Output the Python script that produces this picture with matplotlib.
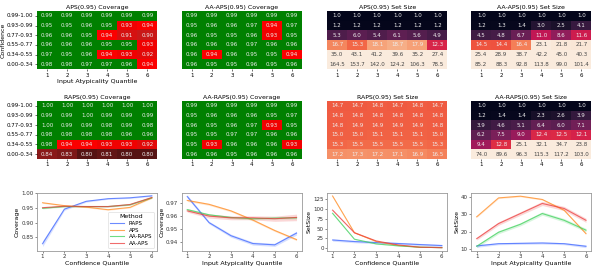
import numpy as np
import matplotlib
matplotlib.use("Agg")
import matplotlib.pyplot as plt
import seaborn as sns
from matplotlib.colors import LinearSegmentedColormap

# heatmap axes
conf_bins = ["0.99-1.00", "0.93-0.99", "0.77-0.93", "0.55-0.77", "0.34-0.55", "0.00-0.34"]
quantiles = [1, 2, 3, 4, 5, 6]

aps_cov = [[0.99, 0.99, 0.99, 0.99, 0.99, 0.99],
           [0.95, 0.95, 0.96, 0.95, 0.93, 0.94],
           [0.96, 0.96, 0.95, 0.94, 0.91, 0.90],
           [0.96, 0.96, 0.96, 0.95, 0.95, 0.93],
           [0.97, 0.95, 0.96, 0.94, 0.93, 0.92],
           [0.98, 0.98, 0.97, 0.97, 0.96, 0.94]]
aa_aps_cov = [[0.99, 0.99, 0.99, 0.99, 0.99, 0.99],
              [0.95, 0.96, 0.96, 0.97, 0.94, 0.97],
              [0.96, 0.95, 0.95, 0.96, 0.93, 0.95],
              [0.96, 0.96, 0.96, 0.97, 0.96, 0.96],
              [0.96, 0.94, 0.96, 0.95, 0.95, 0.94],
              [0.96, 0.95, 0.95, 0.96, 0.95, 0.96]]
aps_size = [[1.0, 1.0, 1.0, 1.0, 1.0, 1.0],
            [1.2, 1.2, 1.2, 1.2, 1.2, 1.2],
            [5.3, 6.0, 5.4, 6.1, 5.6, 4.9],
            [16.7, 15.3, 18.1, 18.7, 17.9, 12.3],
            [35.0, 43.1, 41.2, 39.6, 35.2, 27.4],
            [164.5, 153.7, 142.0, 124.2, 106.3, 78.5]]
aa_aps_size = [[1.0, 1.0, 1.0, 1.0, 1.0, 1.0],
               [1.2, 1.3, 1.4, 3.0, 2.5, 4.1],
               [4.5, 4.8, 6.7, 11.0, 8.6, 11.6],
               [14.5, 14.4, 16.4, 23.1, 21.8, 21.7],
               [25.4, 28.9, 38.7, 42.2, 45.0, 40.3],
               [85.2, 88.3, 92.8, 113.8, 99.0, 101.4]]
raps_cov = [[1.00, 1.00, 1.00, 1.00, 1.00, 1.00],
            [0.99, 0.99, 1.00, 0.99, 0.99, 0.99],
            [1.00, 0.99, 0.99, 0.98, 0.99, 0.98],
            [0.98, 0.98, 0.98, 0.98, 0.96, 0.96],
            [0.98, 0.94, 0.94, 0.93, 0.93, 0.92],
            [0.84, 0.83, 0.80, 0.81, 0.80, 0.80]]
aa_raps_cov = [[0.99, 0.99, 0.99, 0.99, 0.99, 0.99],
               [0.95, 0.96, 0.96, 0.96, 0.95, 0.97],
               [0.96, 0.95, 0.96, 0.97, 0.93, 0.95],
               [0.95, 0.95, 0.97, 0.97, 0.96, 0.96],
               [0.95, 0.93, 0.96, 0.96, 0.96, 0.93],
               [0.96, 0.96, 0.95, 0.96, 0.96, 0.96]]
raps_size = [[14.7, 14.7, 14.8, 14.7, 14.8, 14.7],
             [14.8, 14.8, 14.8, 14.8, 14.8, 14.8],
             [14.8, 14.9, 14.9, 14.9, 14.9, 14.8],
             [15.0, 15.0, 15.1, 15.1, 15.1, 15.0],
             [15.3, 15.5, 15.5, 15.5, 15.5, 15.3],
             [17.2, 17.3, 17.2, 17.1, 16.9, 16.5]]
aa_raps_size = [[1.0, 1.0, 1.0, 1.0, 1.0, 1.0],
                [1.2, 1.4, 1.4, 2.3, 2.6, 3.9],
                [3.9, 4.6, 5.1, 6.4, 6.0, 7.1],
                [6.2, 7.5, 9.0, 12.4, 12.5, 12.1],
                [9.4, 12.8, 25.1, 32.1, 34.7, 23.8],
                [74.0, 89.6, 96.3, 115.3, 117.2, 103.0]]

# line plots: mean and half band width per method
methods = ["RAPS", "APS", "AA-RAPS", "AA-APS"]
cov_by_conf = [[0.827, 0.946, 0.973, 0.982, 0.985, 0.992],
               [0.968, 0.958, 0.953, 0.944, 0.952, 0.985],
               [0.949, 0.955, 0.955, 0.955, 0.961, 0.985],
               [0.951, 0.956, 0.955, 0.955, 0.962, 0.986]]
cov_by_conf_ci = [[0.010, 0.004, 0.003, 0.002, 0.002, 0.002],
                  [0.002, 0.002, 0.002, 0.002, 0.002, 0.002],
                  [0.002, 0.002, 0.002, 0.002, 0.002, 0.002],
                  [0.002, 0.002, 0.002, 0.002, 0.002, 0.002]]
cov_by_atyp = [[0.975, 0.955, 0.945, 0.939, 0.938, 0.947],
               [0.972, 0.969, 0.964, 0.957, 0.949, 0.942],
               [0.965, 0.961, 0.959, 0.958, 0.9585, 0.9587],
               [0.964, 0.960, 0.9587, 0.9587, 0.958, 0.959]]
cov_by_atyp_ci = [[0.0012, 0.001, 0.0012, 0.0012, 0.0012, 0.0015],
                  [0.0008, 0.0008, 0.0008, 0.0008, 0.0008, 0.0008],
                  [0.0008, 0.0008, 0.0008, 0.0008, 0.0008, 0.0008],
                  [0.001, 0.0015, 0.0015, 0.0015, 0.002, 0.0025]]
size_by_conf = [[21.0, 17.0, 14.4, 12.0, 9.3, 6.8],
                [133.0, 39.5, 17.0, 7.0, 2.5, 1.7],
                [89.0, 23.0, 11.0, 6.0, 2.6, 1.5],
                [97.0, 39.5, 18.5, 8.4, 2.5, 1.5]]
size_by_conf_ci = [[3.0, 3.0, 3.0, 3.0, 3.0, 3.0],
                   [1.5, 1.0, 0.5, 0.3, 0.2, 0.2],
                   [1.5, 1.0, 0.5, 0.3, 0.2, 0.2],
                   [1.5, 1.0, 0.5, 0.3, 0.2, 0.2]]
size_by_atyp = [[11.7, 13.0, 13.2, 13.4, 13.0, 11.5],
                [28.5, 39.4, 40.4, 38.5, 32.3, 18.8],
                [11.5, 19.6, 24.2, 30.4, 26.5, 20.8],
                [15.9, 24.6, 30.4, 36.2, 33.3, 26.5]]
size_by_atyp_ci = [[0.8, 0.6, 0.6, 0.6, 0.6, 0.8],
                   [0.4, 0.4, 0.4, 0.4, 0.4, 0.4],
                   [0.8, 0.9, 0.9, 1.0, 1.0, 1.0],
                   [0.8, 1.0, 1.0, 1.2, 1.2, 1.2]]

plt.rcParams['font.family'] = 'DejaVu Sans'
fig = plt.figure(figsize=(5.98, 2.69), dpi=100)

# column / row positions in figure fractions
cols = [0.062, 0.304, 0.547, 0.788]
col_w = 0.201
rows = [(0.743, 0.216), (0.409, 0.216), (0.067, 0.216)]

cov_cmap = LinearSegmentedColormap.from_list(
    "cov", [(0.0, "#561313"), (0.2, "#8a1a1a"), (0.5, "#c81818"),
            (0.66, "#f20000"), (0.72, "#ff0000"), (0.7201, "green"), (1.0, "green")])
fs = 4


def heat(ax, data, title, kind, ylabels=False, xlabel=False):
    data = np.array(data)
    if kind == "cov":
        sns.heatmap(data, ax=ax, cmap=cov_cmap, vmin=0.80, vmax=1.0, cbar=False,
                    annot=True, fmt=".2f", annot_kws={"fontsize": fs})
        for t in ax.texts:
            t.set_color("#eeeeee")
    else:
        sns.heatmap(data, ax=ax, cmap="rocket", vmin=1, vmax=22, cbar=False,
                    annot=True, fmt=".1f", annot_kws={"fontsize": fs})
        for t in ax.texts:
            t.set_color("#eeeeee" if float(t.get_text()) < 20 else "#444444")
    ax.set_title(title, fontsize=4.5, pad=1.5)
    ax.set_xticks(np.arange(6) + 0.5)
    ax.set_xticklabels(quantiles, fontsize=fs)
    ax.set_yticks(np.arange(6) + 0.5)
    if ylabels:
        ax.set_yticklabels(conf_bins, fontsize=fs, rotation=0)
    else:
        ax.set_yticks([])
    ax.tick_params(length=1.5, width=0.4, pad=1)
    if xlabel:
        ax.set_xlabel("Input Atypicality Quantile", fontsize=4.5, labelpad=1)
        ax.set_ylabel("Confidence", fontsize=4.5, labelpad=1)


heat(fig.add_axes([cols[0], rows[0][0], col_w, rows[0][1]]), aps_cov,
     "APS(0.95) Coverage", "cov", ylabels=True, xlabel=True)
heat(fig.add_axes([cols[1], rows[0][0], col_w, rows[0][1]]), aa_aps_cov,
     "AA-APS(0.95) Coverage", "cov")
heat(fig.add_axes([cols[2], rows[0][0], col_w, rows[0][1]]), aps_size,
     "APS(0.95) Set Size", "size")
heat(fig.add_axes([cols[3], rows[0][0], col_w, rows[0][1]]), aa_aps_size,
     "AA-APS(0.95) Set Size", "size")
heat(fig.add_axes([cols[0], rows[1][0], col_w, rows[1][1]]), raps_cov,
     "RAPS(0.95) Coverage", "cov", ylabels=True)
heat(fig.add_axes([cols[1], rows[1][0], col_w, rows[1][1]]), aa_raps_cov,
     "AA-RAPS(0.95) Coverage", "cov")
heat(fig.add_axes([cols[2], rows[1][0], col_w, rows[1][1]]), raps_size,
     "RAPS(0.95) Set Size", "size")
heat(fig.add_axes([cols[3], rows[1][0], col_w, rows[1][1]]), aa_raps_size,
     "AA-RAPS(0.95) Set Size", "size")

colors = ["#3b64ff", "#ff8a1f", "#3ed15a", "#ec3b3b"]


def lines(ax, means, cis, xlabel, ylabel, yticks, fmt, legend=False):
    for m, c, name, col in zip(means, cis, methods, colors):
        m = np.array(m)
        c = np.array(c)
        ax.plot(quantiles, m, color=col, lw=0.8, alpha=0.75, label=name)
        ax.fill_between(quantiles, m - c, m + c, color=col, alpha=0.2, lw=0)
    ax.set_xticks(quantiles)
    ax.set_yticks(yticks)
    ax.set_yticklabels([fmt % v for v in yticks])
    ax.tick_params(labelsize=fs, length=1.5, width=0.4, pad=1, colors="#333333")
    ax.set_xlabel(xlabel, fontsize=4.5, labelpad=1)
    ax.set_ylabel(ylabel, fontsize=4.5, labelpad=1)
    for s in ax.spines.values():
        s.set_color("#999999")
        s.set_linewidth(0.6)
    if legend:
        lg = ax.legend(title="Method", fontsize=4, title_fontsize=4.5,
                       loc="lower right", frameon=True, handlelength=2.5,
                       borderpad=0.4, labelspacing=0.3)
        lg.get_frame().set_linewidth(0.4)


ax = fig.add_axes([cols[0], rows[2][0], col_w, rows[2][1]])
lines(ax, cov_by_conf, cov_by_conf_ci, "Confidence Quantile", "Coverage",
      [0.85, 0.90, 0.95, 1.00], "%.2f", legend=True)
ax.set_ylim(0.802, 1.002)

ax = fig.add_axes([cols[1], rows[2][0], col_w, rows[2][1]])
lines(ax, cov_by_atyp, cov_by_atyp_ci, "Input Atypicality Quantile", "Coverage",
      [0.94, 0.95, 0.96, 0.97], "%.2f")
ax.set_ylim(0.9333, 0.9778)

ax = fig.add_axes([cols[2], rows[2][0], col_w, rows[2][1]])
lines(ax, size_by_conf, size_by_conf_ci, "Confidence Quantile", "SetSize",
      [0, 25, 50, 75, 100, 125], "%d")
ax.set_ylim(-7, 141)

ax = fig.add_axes([cols[3], rows[2][0], col_w, rows[2][1]])
lines(ax, size_by_atyp, size_by_atyp_ci, "Input Atypicality Quantile", "SetSize",
      [10, 20, 30, 40], "%d")
ax.set_ylim(8.8, 42.3)

fig.savefig("out.png", dpi=100)
